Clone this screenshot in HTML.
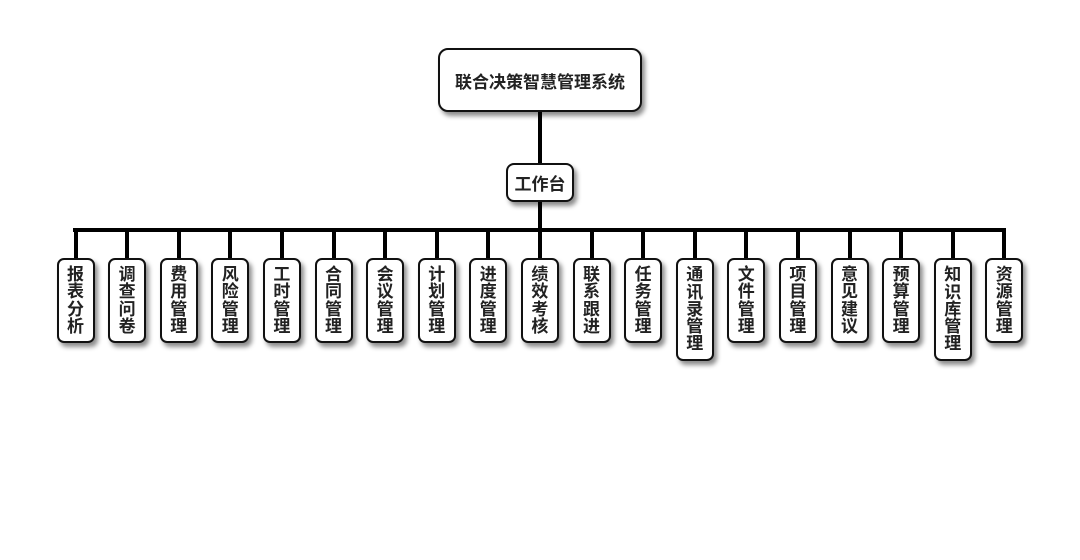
<!DOCTYPE html>
<html><head><meta charset="utf-8"><style>
html,body{margin:0;padding:0;background:#fff;}
body{width:1080px;height:560px;position:relative;overflow:hidden;font-family:"Liberation Sans","Noto Sans CJK SC",sans-serif;}
.ln{position:absolute;background:#000;}
.box{position:absolute;box-sizing:border-box;border:2px solid #111;background:#fff;border-radius:8px;box-shadow:3px 4px 5px rgba(0,0,0,0.45);color:#222;font-weight:bold;font-size:17px;display:flex;align-items:center;justify-content:center;}
.v{width:38px;top:258px;height:85px;border-radius:7px;flex-direction:column;line-height:17.3px;text-align:center;}
.v span{display:block;width:17px;}
.h5{height:103px;}
</style></head><body>
<div class="ln" style="left:538px;top:110px;width:4px;height:55px;"></div>
<div class="ln" style="left:538px;top:200px;width:4px;height:32px;"></div>
<div class="ln" style="left:73px;top:228px;width:933px;height:4px;"></div>
<div id="drops"></div>
<div class="box" style="left:438px;top:48px;width:204px;height:64px;border-radius:10px;">联合决策智慧管理系统</div>
<div class="box" style="left:506px;top:163px;width:68px;height:39px;">工作台</div>
<script>
var names=["报表分析","调查问卷","费用管理","风险管理","工时管理","合同管理","会议管理","计划管理","进度管理","绩效考核","联系跟进","任务管理","通讯录管理","文件管理","项目管理","意见建议","预算管理","知识库管理","资源管理"];
var h="";
for(var i=0;i<names.length;i++){
 var c=75.5+i*51.6;
 h+='<div class="ln" style="left:'+(c-2).toFixed(1)+'px;top:230px;width:4px;height:30px;"></div>';
}
for(var i=0;i<names.length;i++){
 var c=75.5+i*51.6;
 var n=names[i];
 var s="";
 for(var j=0;j<n.length;j++) s+="<span>"+n[j]+"</span>";
 h+='<div class="box v'+(n.length==5?' h5':'')+'" style="left:'+(c-19).toFixed(1)+'px;">'+s+'</div>';
}
document.getElementById("drops").outerHTML=h;
</script>
</body></html>
